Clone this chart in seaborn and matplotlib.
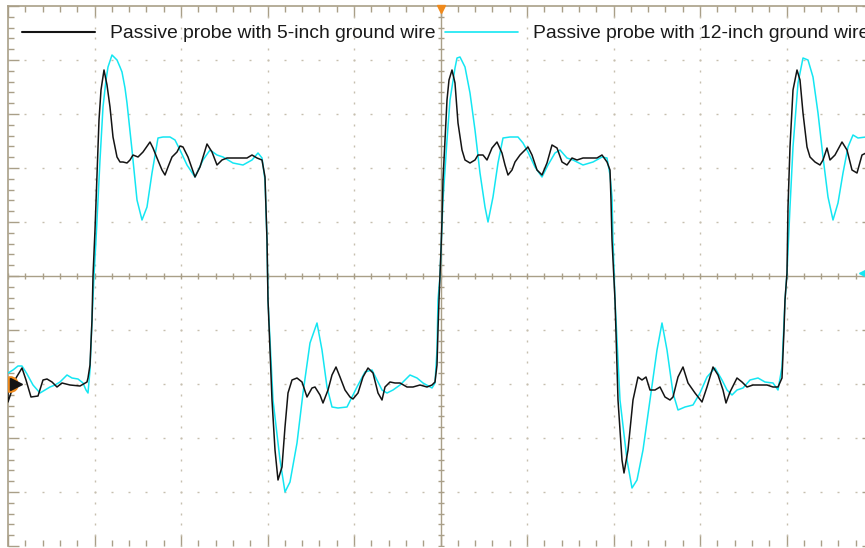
import numpy as np
import pandas as pd
import seaborn as sns
import matplotlib
matplotlib.use("Agg")
import matplotlib.pyplot as plt
from matplotlib.lines import Line2D

# ---- data (time in screen-sample units from left edge, amplitude in screen units; 1 div = 86.5 x 54) ----
probe_5in_t = [0, 0, 4, 8, 14, 18, 23, 30, 35, 39, 44, 49, 54, 62, 72, 79, 80, 82, 84, 85, 87, 89, 91, 93, 96,
               99, 102, 105, 109, 112, 115, 119, 122, 125, 130, 135, 142, 145, 149, 154, 157, 160, 164, 169, 172,
               175, 180, 187, 192, 199, 204, 209, 214, 219, 225, 232, 239, 244, 249, 254, 257, 258, 259, 260, 264,
               267, 270, 274, 277, 280, 284, 289, 294, 299, 304, 307, 312, 315, 320, 324, 328, 332, 337, 342, 345,
               350, 355, 360, 365, 370, 374, 377, 382, 387, 392, 399, 405, 412, 419, 424, 427, 429, 430, 431, 432,
               433, 434, 435, 437, 439, 441, 444, 447, 450, 454, 457, 462, 467, 470, 475, 479, 484, 489, 494, 497,
               500, 504, 507, 512, 517, 520, 524, 529, 534, 539, 544, 549, 554, 559, 564, 569, 575, 582, 589, 594,
               599, 602, 603, 604, 607, 610, 614, 616, 620, 625, 630, 634, 638, 642, 647, 652, 657, 662, 665, 670,
               675, 680, 687, 694, 699, 705, 710, 715, 718, 722, 729, 734, 739, 745, 752, 759, 765, 770, 774, 776,
               777, 779, 780, 782, 785, 789, 792, 795, 799, 802, 807, 812, 815, 819, 822, 827, 834, 839, 844, 849,
               854, 858]
probe_5in_v = [-111, -126, -114, -102, -92, -104, -121, -120, -104, -103, -106, -111, -107, -109, -110, -106, -102,
               -89, -44, 0, 46, 101, 156, 186, 206, 191, 169, 139, 119, 114, 114, 113, 116, 121, 119, 124, 134, 128,
               118, 106, 101, 109, 119, 124, 130, 129, 119, 99, 109, 132, 124, 111, 116, 118, 118, 118, 118, 121,
               118, 116, 99, 66, 36, -24, -124, -174, -204, -191, -151, -117, -104, -102, -106, -121, -112, -111,
               -119, -127, -114, -99, -91, -101, -114, -121, -123, -117, -101, -92, -97, -117, -124, -111, -106,
               -107, -107, -111, -111, -109, -111, -109, -106, -89, -54, -24, 0, 26, 56, 96, 136, 176, 196, 206,
               193, 153, 126, 116, 113, 116, 121, 121, 116, 128, 134, 123, 111, 101, 106, 114, 121, 126, 129, 121,
               106, 101, 113, 131, 128, 114, 111, 118, 116, 118, 118, 118, 121, 114, 106, 76, 36, -24, -124, -184,
               -197, -174, -124, -101, -104, -101, -114, -114, -111, -121, -124, -121, -101, -91, -107, -117, -126,
               -111, -91, -99, -114, -127, -116, -102, -106, -111, -109, -109, -109, -111, -111, -102, -54, -24, 3,
               69, 129, 186, 206, 196, 163, 129, 119, 114, 111, 116, 128, 116, 121, 134, 126, 106, 103, 121, 123]

probe_12in_t = [0, 5, 10, 14, 19, 25, 32, 37, 42, 47, 52, 59, 64, 70, 75, 78, 80, 82, 84, 86, 88, 92, 95, 98, 100,
                104, 106, 109, 112, 114, 117, 119, 124, 129, 134, 139, 144, 150, 155, 162, 167, 172, 179, 187, 195,
                202, 209, 215, 225, 235, 244, 250, 254, 257, 258, 259, 260, 265, 272, 277, 282, 289, 295, 302, 309,
                314, 319, 324, 330, 339, 344, 349, 357, 364, 369, 374, 379, 385, 392, 399, 402, 409, 415, 424, 427,
                429, 430, 432, 433, 435, 439, 442, 444, 447, 449, 452, 457, 462, 467, 472, 477, 480, 485, 490, 495,
                502, 510, 515, 520, 527, 534, 540, 547, 552, 559, 565, 575, 585, 594, 599, 602, 604, 605, 607, 612,
                619, 624, 629, 635, 642, 649, 654, 659, 665, 670, 677, 685, 692, 699, 707, 714, 719, 724, 729, 735,
                742, 750, 757, 765, 770, 774, 777, 779, 782, 785, 790, 795, 800, 805, 810, 815, 820, 825, 830, 835,
                840, 845, 850, 858]
probe_12in_v = [-97, -94, -90, -90, -98, -109, -117, -114, -111, -109, -106, -99, -102, -103, -107, -114, -117, -94,
                -44, 0, 36, 116, 169, 196, 209, 221, 219, 216, 209, 204, 188, 173, 126, 76, 56, 69, 103, 138, 139,
                139, 136, 126, 111, 99, 116, 126, 121, 119, 113, 111, 116, 123, 118, 96, 66, 36, -24, -124, -184,
                -216, -206, -167, -117, -67, -47, -74, -111, -131, -132, -131, -121, -111, -96, -94, -104, -114,
                -117, -114, -109, -102, -99, -102, -107, -112, -107, -74, -24, 0, 26, 76, 136, 176, 189, 208, 218,
                219, 209, 183, 146, 103, 69, 54, 79, 113, 138, 139, 139, 133, 124, 109, 99, 111, 123, 126, 118, 116,
                111, 114, 119, 118, 101, 79, 36, -24, -124, -184, -212, -204, -174, -124, -74, -47, -74, -117, -134,
                -131, -129, -117, -101, -92, -104, -114, -119, -114, -112, -104, -102, -106, -107, -114, -91, -24, 3,
                69, 129, 193, 218, 216, 199, 163, 119, 79, 56, 73, 103, 129, 141, 138, 139]

legend_labels = ["Passive probe with 5-inch ground wire", "Passive probe with 12-inch ground wire"]

# ---- style ----
sns.set_theme(style="white")
plt.rcParams["font.family"] = ["Liberation Sans", "DejaVu Sans"]

BLACK = "#141414"
CYAN = "#14E6F2"
FRAME = "#A99F88"
GRID = "#C6BFAE"
ORANGE = "#F08A1C"

W, H = 865, 548
fig = plt.figure(figsize=(W / 100, H / 100), dpi=100)
fig.patch.set_facecolor("white")
ax = fig.add_axes([8 / W, 2 / H, 865 / W, 540 / H])
ax.set_facecolor("white")

XDIV, YDIV = 86.5, 54.0
XMAX, YMAX = 865.0, 270.0
XC = XMAX / 2
xmaj = np.arange(0, XMAX + 0.1, XDIV)
xmin = np.arange(0, XMAX + 0.1, XDIV / 5)
ymaj = np.arange(-YMAX, YMAX + 0.1, YDIV)
ymin = np.arange(-YMAX, YMAX + 0.1, YDIV / 5)

# dotted graticule
for y in ymaj[1:-1]:
    if abs(y) < 1e-6:
        continue
    ax.plot(xmin, np.full_like(xmin, y), ls="none", marker="_", ms=2.0, mew=1.0, color=GRID, zorder=1)
for x in xmaj[1:-1]:
    if abs(x - XC) < 1e-6:
        continue
    ax.plot(np.full_like(ymin, x), ymin, ls="none", marker="|", ms=2.0, mew=1.0, color=GRID, zorder=1)

# centre cross-hair with small ticks
ax.axhline(0, color=FRAME, lw=1.0, zorder=1.5)
ax.axvline(XC, color=FRAME, lw=1.0, zorder=1.5)
ax.plot(xmin, np.zeros_like(xmin), ls="none", marker="|", ms=5, mew=1.0, color=FRAME, zorder=1.5)
ax.plot(np.full_like(ymin, XC), ymin, ls="none", marker="_", ms=5, mew=1.0, color=FRAME, zorder=1.5)

# traces
df12 = pd.DataFrame({"t": probe_12in_t, "v": probe_12in_v})
df5 = pd.DataFrame({"t": probe_5in_t, "v": probe_5in_v})
sns.lineplot(data=df12, x="t", y="v", ax=ax, color=CYAN, lw=1.1, estimator=None, sort=False, zorder=3)
sns.lineplot(data=df5, x="t", y="v", ax=ax, color=BLACK, lw=1.1, estimator=None, sort=False, zorder=4)

# scope markers
ax.plot(XC, 267, marker="v", ms=6, color=ORANGE, mec=ORANGE, clip_on=False, zorder=6)
ax.plot(2, -108, marker="o", ms=11, color=ORANGE, mec=ORANGE, zorder=5)
ax.plot(8, -108, marker=">", ms=9, color=BLACK, mec=BLACK, zorder=6)
ax.plot(854, 3, marker="<", ms=5, color=CYAN, mec=CYAN, zorder=6)

ax.set_xlim(0, XMAX)
ax.set_ylim(-YMAX, YMAX)
ax.set_xlabel("")
ax.set_ylabel("")
ax.set_xticks(xmaj)
ax.set_xticks(xmin, minor=True)
ax.set_yticks(ymaj)
ax.set_yticks(ymin, minor=True)
ax.tick_params(which="both", direction="in", color=FRAME, width=1.0,
               top=True, bottom=True, left=True, right=True,
               labelbottom=False, labelleft=False)
ax.tick_params(which="major", length=8)
ax.tick_params(which="minor", length=4.3)
for s in ax.spines.values():
    s.set_color(FRAME)
    s.set_linewidth(1.2)
ax.spines["bottom"].set_visible(False)

handles = [Line2D([], [], color=BLACK, lw=1.5), Line2D([], [], color=CYAN, lw=1.2)]
fig.legend(handles, legend_labels, loc="center left", bbox_to_anchor=(22 / W, 1 - 33.5 / H),
           bbox_transform=fig.transFigure, ncol=2, frameon=False, fontsize=13.87,
           handlelength=3.78, handletextpad=0.78, columnspacing=0.52, borderpad=0,
           borderaxespad=0, labelcolor="#1a1a1a")

fig.savefig("out.png", dpi=100, facecolor="white")
